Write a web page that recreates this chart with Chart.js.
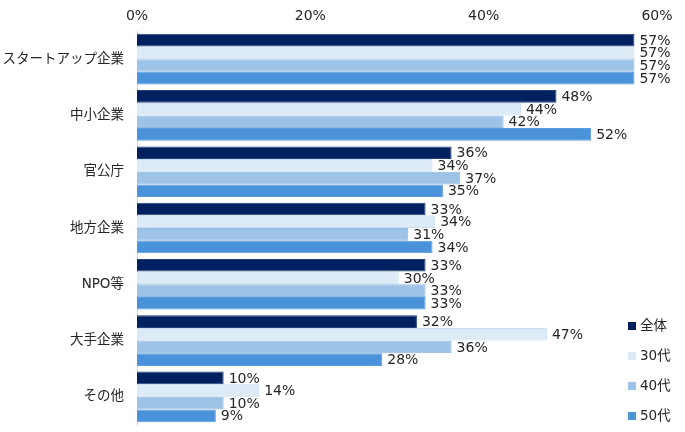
<!DOCTYPE html>
<html>
<head>
<meta charset="utf-8">
<script src="https://cdn.jsdelivr.net/npm/chart.js@4"></script>
<style>
  body { margin: 0; background: #fff; }
  #wrap { position: relative; width: 685px; height: 432px; }
  .legend { position: absolute; left: 628px; font: 13.5px "DejaVu Sans", "Noto Sans CJK JP", sans-serif; color: #262626; }
  .legend span { display: inline-block; width: 8px; height: 8px; margin-right: 4px; vertical-align: 0px; }
</style>
</head>
<body>
<div id="wrap">
  <canvas id="myChart" width="685" height="432"></canvas>
</div>
<script>
'use strict';

const categories = ['スタートアップ企業', '中小企業', '官公庁', '地方企業', 'NPO等', '大手企業', 'その他'];
const seriesNames = ['全体', '30代', '40代', '50代'];
const allAges = [57.4, 48.4, 36.3, 33.3, 33.3, 32.3, 10.0];
const age30 = [57.4, 44.3, 34.1, 34.4, 30.2, 47.3, 14.1];
const age40 = [57.4, 42.3, 37.3, 31.3, 33.3, 36.3, 10.0];
const age50 = [57.4, 52.4, 35.3, 34.1, 33.3, 28.3, 9.1];
const xTicks = [0, 20, 40, 60];

const colors = ['#002060', '#DDEBF7', '#9DC3E6', '#4A92DA'];
const borders = ['#20407a', '#c9def2', '#8db7e0', '#5a9de0'];
const fontFamily = '"DejaVu Sans", "Noto Sans CJK JP", sans-serif';

/*legend*/
const wrap = document.getElementById('wrap');
const legendTops = [314, 344, 374, 404];
seriesNames.forEach(function(name, i) {
    const item = document.createElement('div');
    item.className = 'legend';
    item.style.top = legendTops[i] + 'px';
    item.innerHTML = '<span style="background:' + colors[i] + '"></span>' + name;
    wrap.appendChild(item);
});

/*value labels next to bars*/
const valueLabels = {
    id: 'valueLabels',
    afterDatasetsDraw(chart) {
        const ctx = chart.ctx;
        ctx.save();
        ctx.font = '14px ' + fontFamily;
        ctx.fillStyle = '#262626';
        ctx.textBaseline = 'middle';
        ctx.textAlign = 'left';
        chart.data.datasets.forEach(function(ds, i) {
            const meta = chart.getDatasetMeta(i);
            meta.data.forEach(function(bar, j) {
                ctx.fillText(Math.round(ds.data[j]) + '%', bar.x + 5, bar.y + 1);
            });
        });
        ctx.restore();
    }
};

const dataArrays = [allAges, age30, age40, age50];

const ctx = document.getElementById('myChart').getContext('2d');

const chart = new Chart(ctx, {
    type: 'bar',
    data: {
        labels: categories,
        datasets: seriesNames.map(function(name, i) {
            return {
                label: name,
                data: dataArrays[i],
                backgroundColor: colors[i],
                borderColor: borders[i],
                borderWidth: 1,
                categoryPercentage: 0.9,
                barPercentage: 1.0
            };
        })
    },
    options: {
        indexAxis: 'y',
        responsive: false,
        animation: false,
        layout: { padding: { left: 0, right: 28, top: 0, bottom: 7 } },
        plugins: {
            legend: { display: false },
            tooltip: { enabled: false }
        },
        scales: {
            x: {
                position: 'top',
                min: 0,
                max: 60,
                afterFit: function(scale) {
                    scale.height = 31;
                    scale.paddingLeft = 0;
                    scale.paddingRight = 0;
                },
                afterBuildTicks: function(scale) {
                    scale.ticks = xTicks.map(function(v) { return { value: v }; });
                },
                ticks: {
                    padding: 6,
                    color: '#262626',
                    font: { family: fontFamily, size: 14 },
                    callback: function(v) { return v + '%'; }
                },
                grid: { display: false, drawTicks: false },
                border: { display: false }
            },
            y: {
                afterFit: function(scale) {
                    scale.width = 137;
                    scale.paddingTop = 0;
                    scale.paddingBottom = 0;
                },
                ticks: {
                    padding: 13,
                    color: '#262626',
                    font: { family: fontFamily, size: 13.5 }
                },
                grid: { display: false, drawTicks: false },
                border: { display: true, color: '#d9d9d9' }
            }
        }
    },
    plugins: [valueLabels]
});
</script>
</body>
</html>
